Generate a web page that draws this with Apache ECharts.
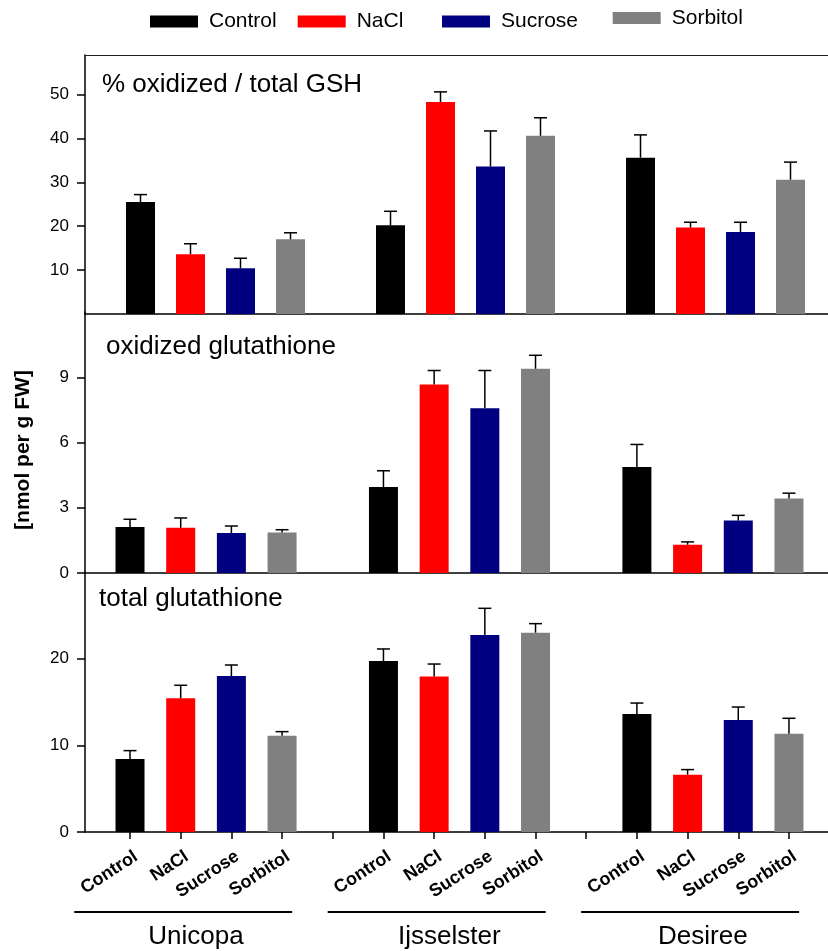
<!DOCTYPE html>
<html>
<head>
<meta charset="utf-8">
<script src="https://cdn.jsdelivr.net/npm/echarts@6/dist/echarts.min.js"></script>
<style>
html,body{margin:0;padding:0;background:#fff;}
#chart{width:828px;height:951px;}
</style>
</head>
<body>
<div id="chart"></div>
<script>
// ---- data ----
const groups = ['Unicopa', 'Ijsselster', 'Desiree'];
const treatments = ['Control', 'NaCl', 'Sucrose', 'Sorbitol'];
const colors = ['#000000', '#ff0000', '#000080', '#808080'];

// % oxidized / total GSH  (rows = treatments, cols = groups)
const pctMean = [[25.5, 20.2, 35.6], [13.6, 48.3, 19.7], [10.4, 33.6, 18.7], [17.0, 40.6, 30.6]];
const pctErr  = [[1.7, 3.2, 5.2], [2.4, 2.3, 1.2], [2.3, 8.1, 2.2], [1.5, 4.1, 4.0]];
// oxidized glutathione [nmol per g FW]
const oxMean = [[2.11, 3.95, 4.87], [2.08, 8.67, 1.30], [1.84, 7.57, 2.41], [1.86, 9.39, 3.42]];
const oxErr  = [[0.36, 0.75, 1.04], [0.45, 0.64, 0.13], [0.32, 1.74, 0.24], [0.13, 0.62, 0.25]];
// total glutathione [nmol per g FW]
const totMean = [[8.42, 19.73, 13.62], [15.43, 17.93, 6.62], [18.0, 22.73, 12.92], [11.12, 23.0, 11.35]];
const totErr  = [[0.97, 1.39, 1.26], [1.5, 1.45, 0.58], [1.27, 3.08, 1.5], [0.46, 1.04, 1.77]];

const panelTitles = ['% oxidized / total GSH', 'oxidized glutathione', 'total glutathione'];
const yTicksPct = [10, 20, 30, 40, 50];
const yTicksOx = [0, 3, 6, 9];
const yTicksTot = [0, 10, 20];
const yAxisTitle = '[nmol per g FW]';

// ---- build ----
const FONT = 'Liberation Sans, Arial, Helvetica, sans-serif';
const slot = treatments.length + 1;
const pos = (g, t) => g * slot + t;
const nSlots = groups.length * slot - 1;
const tickIdx = Array.from({length: nSlots}, (_, i) => i);
const labelOffset = 0.12;
const labelIdx = [];
groups.forEach((g, gi) => treatments.forEach((t, ti) => labelIdx.push(pos(gi, ti) + labelOffset)));

const panels = [
  {mean: pctMean, err: pctErr, ticks: yTicksPct, max: 59},
  {mean: oxMean, err: oxErr, ticks: yTicksOx, max: 12},
  {mean: totMean, err: totErr, ticks: yTicksTot, max: 30}
];

const grids = [
  {left: 85, right: 0, top: 55, height: 259},
  {left: 85, right: 0, top: 312, height: 261},
  {left: 85, right: 0, top: 572, height: 260}
];

const blackLine = {show: true, onZero: false, lineStyle: {color: '#000', width: 1.5}};

const xAxes = [
  {gridIndex: 0, type: 'value', min: -1.11, max: 13.75, axisLine: blackLine, axisTick: {show: false}, axisLabel: {show: false}, splitLine: {show: false}},
  {gridIndex: 0, type: 'value', position: 'top', min: -1.11, max: 13.75, axisLine: {show: true, onZero: false, lineStyle: {color: '#222', width: 1.2}}, axisTick: {show: false}, axisLabel: {show: false}, splitLine: {show: false}},
  {gridIndex: 1, type: 'value', min: -0.888, max: 13.77, axisLine: blackLine, axisTick: {show: false}, axisLabel: {show: false}, splitLine: {show: false}},
  {gridIndex: 2, type: 'value', min: -0.888, max: 13.77, axisLine: blackLine,
    axisTick: {show: true, customValues: tickIdx, length: 7, lineStyle: {color: '#000', width: 1.5}},
    axisLabel: {show: true, customValues: labelIdx, rotate: 33, margin: 23, fontSize: 18, fontWeight: 'bold', color: '#000', fontFamily: FONT,
      formatter: v => treatments[Math.round(v) % slot] || ''},
    splitLine: {show: false}}
];
const xIndexOfPanel = [0, 2, 3];

const yAxes = panels.map((p, i) => ({
  gridIndex: i, type: 'value', min: 0, max: p.max,
  axisLine: {show: true, onZero: false, lineStyle: {color: '#000', width: 1.5}},
  axisTick: {show: true, customValues: p.ticks, length: 8, lineStyle: {color: '#000', width: 1.5}},
  axisLabel: {show: true, customValues: p.ticks, margin: 16, fontSize: 17, color: '#000', fontFamily: FONT},
  splitLine: {show: false}
}));

function renderErr(params, api) {
  const x = api.value(0), m = api.value(1), e = api.value(2);
  const p0 = api.coord([x, m]);
  const p1 = api.coord([x, m + e]);
  const hw = 6.5;
  const st = {stroke: '#000', lineWidth: 1.5};
  return {type: 'group', children: [
    {type: 'line', shape: {x1: p0[0], y1: p0[1], x2: p1[0], y2: p1[1]}, style: st},
    {type: 'line', shape: {x1: p1[0] - hw, y1: p1[1], x2: p1[0] + hw, y2: p1[1]}, style: st}
  ]};
}

const series = [];
panels.forEach((p, pi) => {
  treatments.forEach((t, ti) => {
    series.push({
      name: t, type: 'bar', xAxisIndex: xIndexOfPanel[pi], yAxisIndex: pi,
      barWidth: 29, barGap: '-100%', itemStyle: {color: colors[ti]},
      data: groups.map((g, gi) => [pos(gi, ti), p.mean[ti][gi]]),
      animation: false, z: 2
    });
  });
  const errData = [];
  treatments.forEach((t, ti) => groups.forEach((g, gi) => errData.push([pos(gi, ti), p.mean[ti][gi], p.err[ti][gi]])));
  series.push({
    type: 'custom', xAxisIndex: xIndexOfPanel[pi], yAxisIndex: pi,
    renderItem: renderErr, encode: {x: 0, y: 1}, data: errData, z: 3, animation: false, silent: true
  });
});

const legendLeft = [150, 297.7, 442, 612.7];
const legendTop = [11, 11, 11, 7.5];
const legends = treatments.map((t, i) => ({
  data: [t], left: legendLeft[i], top: legendTop[i], padding: 0, icon: 'rect', itemWidth: 48, itemHeight: 12,
  selectedMode: false, textStyle: {fontSize: 21, color: '#000', fontFamily: FONT, padding: [0, 0, 0, 6]}
}));

const titleTops = [72, 334, 586];
const titleLefts = [102, 106, 99];
const titles = panelTitles.map((t, i) => ({
  text: t, left: titleLefts[i], top: titleTops[i], padding: 0,
  textStyle: {fontSize: 26, fontWeight: 'normal', color: '#000', fontFamily: FONT}
}));

const chart = echarts.init(document.getElementById('chart'), null, {renderer: 'canvas'});
chart.setOption({
  animation: false,
  backgroundColor: '#fff',
  title: titles,
  legend: legends,
  grid: grids,
  xAxis: xAxes,
  yAxis: yAxes,
  series: series
});

// y-axis title, group underlines and names (placed through the bottom x axis scale)
const extra = [{
  type: 'text', x: 23.5, y: 450, rotation: Math.PI / 2,
  style: {text: yAxisTitle, font: 'bold 21px ' + FONT, fill: '#000', align: 'center', verticalAlign: 'middle'}
}];
groups.forEach((g, gi) => {
  const first = pos(gi, 0), last = pos(gi, treatments.length - 1);
  const xa = chart.convertToPixel({xAxisIndex: 3}, first - 1.1);
  const xb = chart.convertToPixel({xAxisIndex: 3}, last + 0.2);
  const xc = chart.convertToPixel({xAxisIndex: 3}, (first + last) / 2 - 0.2);
  extra.push({type: 'line', shape: {x1: xa, y1: 912, x2: xb, y2: 912}, style: {stroke: '#000', lineWidth: 2}});
  extra.push({type: 'text', x: xc, y: 924, style: {text: g, font: '26px ' + FONT, fill: '#000', align: 'center', verticalAlign: 'top'}});
});
chart.setOption({graphic: extra});
</script>
</body>
</html>
